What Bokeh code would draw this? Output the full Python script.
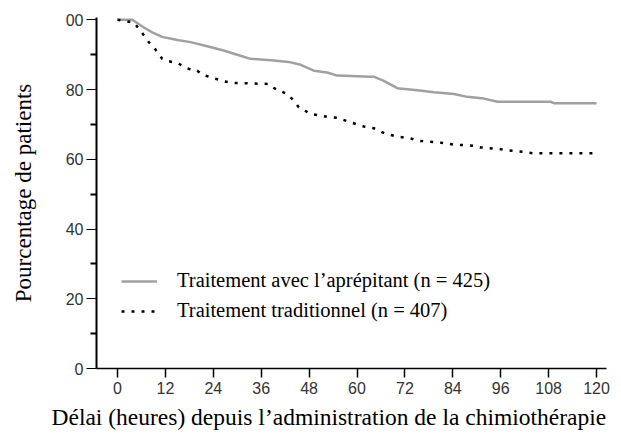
from bokeh.plotting import figure
from bokeh.models import FixedTicker, Legend, LegendItem, Range1d, Title
from bokeh.embed import file_html
from bokeh.resources import INLINE

# Data
hours_aprepitant = [0, 3.7, 6.6, 8.7, 11.2, 15, 18.3, 22.5, 26.6, 30.8, 33.3, 39.2, 43.4, 45.9,
                    49.2, 52.5, 55.1, 63.4, 64.2, 66.7, 70.1, 75.1, 79.3, 84.3, 87.6, 91.8, 95.2,
                    108.5, 109.3, 120]
pct_aprepitant = [100, 100, 97.8, 96.4, 95.1, 94.2, 93.6, 92.4, 91.2, 89.7, 88.8, 88.3, 87.8, 87.1,
                  85.4, 84.9, 84.0, 83.7, 83.7, 82.5, 80.4, 79.8, 79.2, 78.7, 77.9, 77.4, 76.5,
                  76.5, 76.1, 76.1]

hours_traditionnel = [0, 4.1, 5.8, 7.9, 9.1, 11.2, 12.9, 15, 17.9, 20, 21.2, 22.9, 24.6, 26.6, 28.7,
                      37.9, 39.2, 42.5, 44.2, 45.4, 48.4, 52.5, 55.1, 58.4, 61.7, 64.2, 67.2, 70.1,
                      73.4, 75.5, 80.1, 84.3, 89.3, 91.0, 95.2, 97.6, 101.8, 104.3, 120]
pct_traditionnel = [100, 99.2, 96.8, 93.5, 92.1, 88.8, 88.1, 87.6, 85.9, 85.4, 84.2, 83.7, 83.1, 82.4, 81.9,
                    81.6, 80.4, 78.7, 76.8, 74.9, 73.0, 72.2, 71.9, 70.6, 69.4, 68.9, 67.3, 66.5,
                    66.0, 65.3, 64.9, 64.2, 63.9, 63.4, 63.0, 62.6, 62.1, 61.7, 61.7]

x_ticks = [0, 12, 24, 36, 48, 60, 72, 84, 96, 108, 120]
y_ticks = [0, 20, 40, 60, 80, 100]
y_minor_ticks = [10, 30, 50, 70, 90]
y_tick_overrides = {100: "00"}

label_aprepitant = "Traitement avec l’aprépitant (n = 425)"
label_traditionnel = "Traitement traditionnel (n = 407)"
x_title = "Délai (heures) depuis l’administration de la chimiothérapie"
y_title = "Pourcentage de patients"

p = figure(width=621, height=438, output_backend="svg", toolbar_location=None,
           x_range=Range1d(-5.26, 122.5), y_range=Range1d(0, 100.66),
           min_border_left=96, min_border_right=15, min_border_top=17, min_border_bottom=70)
p.xgrid.visible = False
p.ygrid.visible = False
p.outline_line_color = None
p.background_fill_color = "white"
p.border_fill_color = "white"

# X axis
xa = p.xaxis[0]
xa.ticker = FixedTicker(ticks=x_ticks, minor_ticks=[])
xa.axis_line_width = 1.5
xa.major_tick_out = 9
xa.major_tick_in = 0
xa.major_tick_line_width = 1.5
xa.minor_tick_out = 0
xa.major_label_standoff = 4
xa.major_label_text_font = "Liberation Sans"
xa.major_label_text_font_size = "16px"
xa.major_label_text_color = "#333333"

# Y axis
ya = p.yaxis[0]
ya.ticker = FixedTicker(ticks=y_ticks, minor_ticks=y_minor_ticks)
ya.major_label_overrides = y_tick_overrides
ya.axis_line_width = 2
ya.major_tick_out = 10
ya.major_tick_in = 0
ya.major_tick_line_width = 1
ya.minor_tick_out = 6
ya.minor_tick_in = 0
ya.minor_tick_line_width = 2
ya.major_label_standoff = 3
ya.major_label_text_font = "Liberation Sans"
ya.major_label_text_font_size = "16px"
ya.major_label_text_color = "#333333"
ya.axis_label = y_title
ya.axis_label_standoff = 27
ya.axis_label_text_font = "Liberation Serif"
ya.axis_label_text_font_size = "23px"
ya.axis_label_text_font_style = "normal"
ya.axis_label_text_color = "black"

r1 = p.line(hours_aprepitant, pct_aprepitant, line_color="#a0a0a0", line_width=2.5)
r2 = p.line(hours_traditionnel, pct_traditionnel, line_color="black", line_width=2.5,
            line_dash="3 7")

legend = Legend(items=[LegendItem(label=label_aprepitant, renderers=[r1]),
                       LegendItem(label=label_traditionnel, renderers=[r2])],
                location=(25, 46), orientation="vertical",
                border_line_color=None, background_fill_alpha=0,
                padding=0, margin=0, spacing=7,
                glyph_width=36, glyph_height=20, label_height=20, label_standoff=20,
                label_text_font="Liberation Serif", label_text_font_size="20.5px",
                label_text_color="black")
p.add_layout(legend)

p.add_layout(Title(text=x_title, align="left", offset=-45, standoff=10,
                   text_font="Liberation Serif", text_font_size="23.5px",
                   text_font_style="normal", text_color="black"), "below")

open("out.html", "w").write(file_html(p, INLINE))
